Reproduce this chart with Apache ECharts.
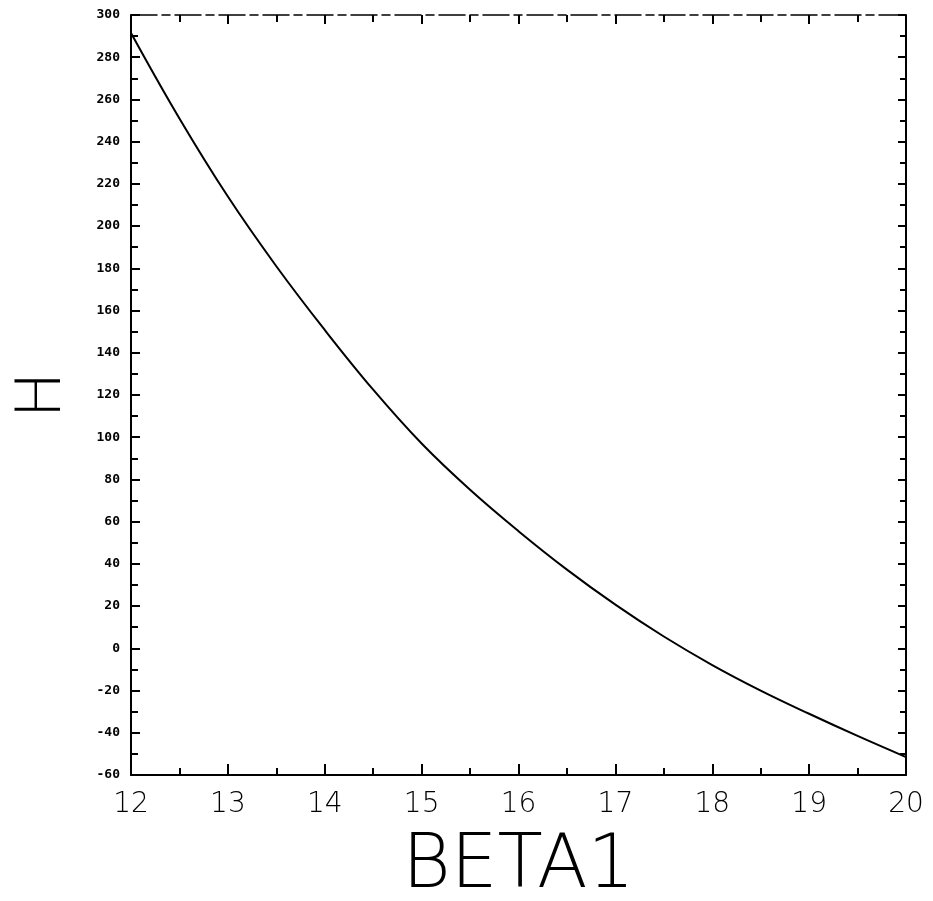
<!DOCTYPE html>
<html>
<head>
<meta charset="utf-8">
<script src="https://cdn.jsdelivr.net/npm/echarts@6/dist/echarts.min.js"></script>
<style>
html,body{margin:0;padding:0;background:#fff;}
#chart{width:933px;height:901px;}
</style>
</head>
<body>
<div id="chart"></div>
<script>
var beta1 = [12, 12.5, 13, 13.5, 14, 14.5, 15, 15.5, 16, 16.5, 17, 17.5, 18, 18.5, 19, 19.5, 20];
var hValues = [291.5, 251, 214, 181, 150.8, 122.5, 97, 75.1, 55.5, 37.3, 20.7, 5.6, -7.9, -20, -31, -41.5, -51.5];
var xTicks = [12, 13, 14, 15, 16, 17, 18, 19, 20];
var yTicks = [-60, -40, -20, 0, 20, 40, 60, 80, 100, 120, 140, 160, 180, 200, 220, 240, 260, 280, 300];

var points = beta1.map(function (x, i) { return [x, hValues[i]]; });

var chart = echarts.init(document.getElementById('chart'), null, {renderer: 'canvas'});
var black = '#000';
chart.setOption({
  animation: false,
  backgroundColor: '#fff',
  grid: {left: 131, right: 27, top: 15, bottom: 126, containLabel: false, outerBoundsMode: 'none'},
  xAxis: [{
    type: 'value', min: 12, max: 20, interval: 1, position: 'bottom',
    name: 'BETA1', nameLocation: 'middle', nameGap: 56,
    nameTextStyle: {fontFamily: 'DejaVu Sans', fontSize: 74, color: black, fontWeight: 200},
    axisLine: {show: true, onZero: false, lineStyle: {color: black, width: 2}},
    axisTick: {show: true, inside: true, length: 11, lineStyle: {color: black, width: 2}},
    minorTick: {show: true, splitNumber: 2, length: 7, lineStyle: {color: black, width: 2}},
    splitLine: {show: false},
    axisLabel: {show: true, margin: 16, fontFamily: 'DejaVu Sans', fontWeight: 200, fontSize: 28, color: black,
      formatter: function (v) { return xTicks.indexOf(v) >= 0 ? String(v) : ''; }}
  }, {
    type: 'value', min: 12, max: 20, interval: 1, position: 'top',
    axisLine: {show: true, onZero: false, lineStyle: {color: black, width: 1.5, type: [26, 5, 8, 5]}},
    axisTick: {show: true, inside: true, length: 9, lineStyle: {color: black, width: 2}},
    minorTick: {show: true, splitNumber: 2, length: 7, lineStyle: {color: black, width: 2}},
    splitLine: {show: false},
    axisLabel: {show: false}
  }],
  yAxis: [{
    type: 'value', min: -60, max: 300, interval: 20, position: 'left',
    name: 'H', nameLocation: 'middle', nameGap: 56, nameRotate: 90,
    nameTextStyle: {fontFamily: 'DejaVu Sans', fontSize: 62, color: black, fontWeight: 200},
    axisLine: {show: true, onZero: false, lineStyle: {color: black, width: 2}},
    axisTick: {show: true, inside: true, length: 9, lineStyle: {color: black, width: 2}},
    minorTick: {show: true, splitNumber: 2, length: 7, lineStyle: {color: black, width: 2}},
    splitLine: {show: false},
    axisLabel: {show: true, margin: 11, fontFamily: 'DejaVu Sans Mono', fontWeight: 'bold', fontSize: 13, color: black,
      formatter: function (v) { return yTicks.indexOf(v) >= 0 ? String(v) : ''; }}
  }, {
    type: 'value', min: -60, max: 300, interval: 20, position: 'right',
    axisLine: {show: true, onZero: false, lineStyle: {color: black, width: 2}},
    axisTick: {show: true, inside: true, length: 8, lineStyle: {color: black, width: 2}},
    minorTick: {show: true, splitNumber: 2, length: 6, lineStyle: {color: black, width: 2}},
    splitLine: {show: false},
    axisLabel: {show: false}
  }],
  series: [{
    type: 'line', xAxisIndex: 0, yAxisIndex: 0,
    data: points, smooth: 0.4, showSymbol: false, symbol: 'none',
    lineStyle: {color: black, width: 2}
  }]
});
</script>
</body>
</html>
